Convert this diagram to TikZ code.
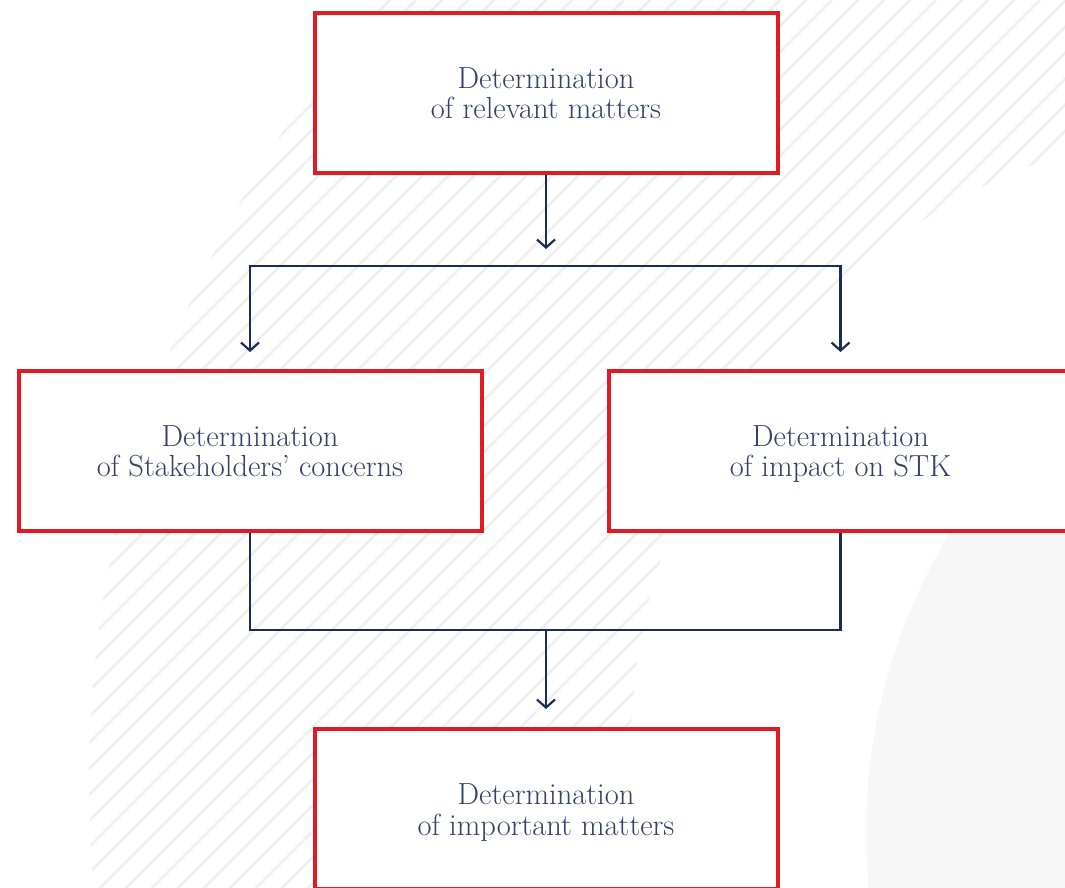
\documentclass[tikz,border=0pt]{standalone}
\usetikzlibrary{arrows.meta}
\definecolor{boxred}{HTML}{E01B24}
\definecolor{navy}{HTML}{1C2B58}
\definecolor{inktext}{HTML}{33406A}
\definecolor{stripe}{HTML}{EFEFEF}
\definecolor{disc}{HTML}{F7F7F7}
\begin{document}
\begin{tikzpicture}[x=1pt,y=-1pt,
  stage/.style={draw=boxred, line width=4pt, fill=white,
    minimum width=463pt, minimum height=160pt, inner sep=0pt,
    align=center, text=inktext,
    font=\fontsize{30.5}{30.5}\selectfont,
    text height=52pt, text depth=0pt},
  flow/.style={draw=navy, line width=2.2pt},
  barb/.style={-{Straight Barb[length=8pt,width=18pt]}},
  hatch/.style={draw=stripe, line width=2.6pt}
]
\useasboundingbox (0,0) rectangle (1065,888);
\begin{scope}
\clip (0,0) rectangle (1065,888);

% hatched ring in the background
\begin{scope}[even odd rule]
  \clip (1283,784) circle[radius=1194] (1261,752) circle[radius=630];
  \foreach \c in {0,26,...,1976}
    \draw[hatch] (\c,0) -- ({\c-900},900);
\end{scope}

% pale disc on the right
\fill[disc] (1444,833) circle[radius=578];

% process steps
\node[stage] (relevant) at (546,93) {Determination\\of relevant matters};
\node[stage] (concerns) at (250,450.5) {Determination\\of Stakeholders’ concerns};
\node[stage] (impact) at (840.5,450.5) {Determination\\of impact on STK};
\node[stage] (important) at (546,809) {Determination\\of important matters};

% fork and join points
\coordinate (forktip) at (546,249);
\coordinate (fork) at (546,266);
\coordinate (lefttip) at (250,352);
\coordinate (righttip) at (840.5,352);
\coordinate (join) at (546,630);
\coordinate (jointip) at (546,709);

\draw[flow, barb] (relevant.south) -- (forktip);
\draw[flow, {Straight Barb[length=8pt,width=18pt]}-{Straight Barb[length=8pt,width=18pt]}]
  (lefttip) |- (fork) -| (righttip);
\draw[flow] (concerns.south) |- (join) -| (impact.south);
\draw[flow, barb] (join) -- (jointip);
\end{scope}
\end{tikzpicture}
\end{document}
